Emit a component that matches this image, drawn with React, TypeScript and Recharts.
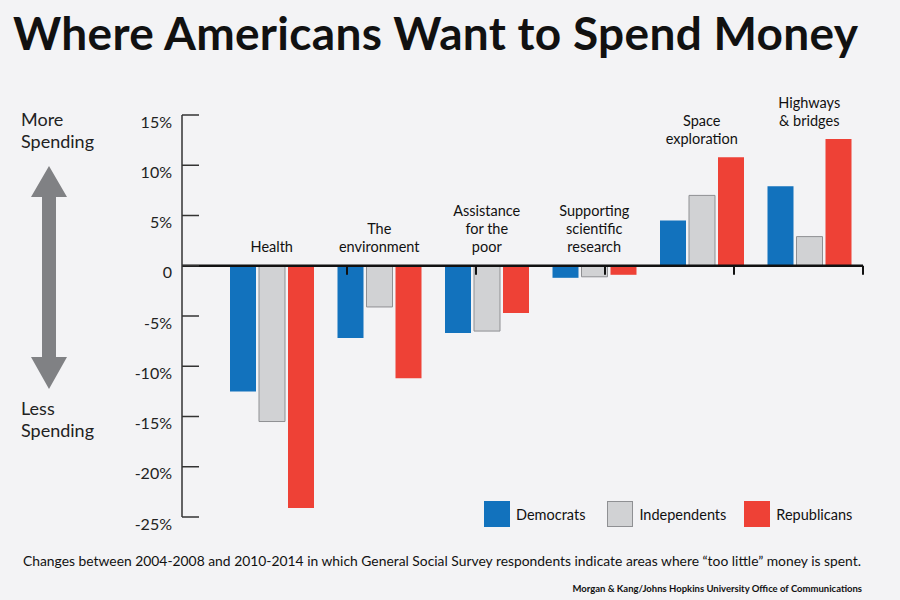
import React from "react";
import { ComposedChart, Bar, Line, XAxis, YAxis, ReferenceLine, Legend } from "recharts";

const categories = ["Health", "The\nenvironment", "Assistance\nfor the\npoor", "Supporting\nscientific\nresearch", "Space\nexploration", "Highways\n& bridges"];
const democrats = [-12.5, -7.2, -6.7, -1.2, 4.5, 7.9];
const independents = [-15.5, -4.1, -6.5, -1.1, 7.0, 2.9];
const republicans = [-24.1, -11.2, -4.7, -0.9, 10.8, 12.6];
const yTicks = [15, 10, 5, 0, -5, -10, -15, -20, -25];
const boundaries = [1, 2, 3, 4, 5, 6];

const BLUE = "#1272bd";
const GREY = "#d1d2d4";
const GREY_STROKE = "#8f9093";
const RED = "#ee4136";
const BG = "#f3f3f5";
const FONT = "Lato, 'Noto Sans', sans-serif";

const data = categories.map((c, i) => ({
  category: c,
  dem: democrats[i],
  ind: independents[i],
  rep: republicans[i],
  labelTop: Math.max(0, democrats[i], independents[i], republicans[i]),
}));

const YTick = (props: any) => {
  const { x, y, payload } = props;
  const v = payload.value;
  return (
    <g>
      <line x1={x + 10} x2={x + 27} y1={y} y2={y} stroke="#333" strokeWidth={1.5} />
      <text x={x} y={y + 6} textAnchor="end" dominantBaseline="central" fontFamily={FONT} fontSize={16} fill="#222">
        {v === 0 ? "0" : `${v}%`}
      </text>
    </g>
  );
};

const CatLabel = (props: any) => {
  const { cx, cy, payload, index } = props;
  if (cx == null || cy == null) return null;
  const lines = String(payload.category).split("\n");
  const n = lines.length;
  return (
    <g key={`lbl-${index}`}>
      {lines.map((ln, i) => (
        <text key={i} x={cx} y={cy - 19 - (n - 1 - i) * 18} textAnchor="middle" dominantBaseline="central" fontFamily={FONT} fontSize={14.5} fill="#111">
          {ln}
        </text>
      ))}
    </g>
  );
};

const LegendContent = (props: any) => {
  const { payload } = props;
  const items = (payload || []).filter((p: any) => p.type !== "none");
  return (
    <div style={{ display: "flex", alignItems: "center", fontFamily: FONT, fontSize: 14.5, color: "#111" }}>
      {items.map((p: any, i: number) => (
        <div key={i} style={{ display: "flex", alignItems: "center", marginRight: i === 0 ? 22 : 18 }}>
          <svg width={26} height={26} style={{ display: "block" }}>
            <rect x={0.5} y={0.5} width={25} height={25} fill={p.color} stroke={p.payload && p.payload.stroke ? p.payload.stroke : p.color} strokeWidth={1} />
          </svg>
          <span style={{ marginLeft: 6, whiteSpace: "nowrap" }}>{p.value}</span>
        </div>
      ))}
    </div>
  );
};

export default function App() {
  return (
    <div style={{ position: "absolute", left: 0, top: 0, width: 900, height: 600, background: BG, overflow: "hidden" }}>
      <svg width={900} height={600} style={{ position: "absolute", left: 0, top: 0 }}>
        <text x={13} y={50} fontFamily={FONT} fontWeight={700} fontSize={46} fill="#111" textLength={845} lengthAdjust="spacing">
          Where Americans Want to Spend Money
        </text>
        <text x={21} y={126} fontFamily={FONT} fontSize={18} fill="#222">More</text>
        <text x={21} y={148} fontFamily={FONT} fontSize={18} fill="#222">Spending</text>
        <text x={21} y={415} fontFamily={FONT} fontSize={18} fill="#222">Less</text>
        <text x={21} y={437} fontFamily={FONT} fontSize={18} fill="#222">Spending</text>
        <polygon points="49,166 67,197 56,197 56,357 67,357 49,389 31,357 42,357 42,197 31,197" fill="#808184" />
        <text x={23} y={566} fontFamily={FONT} fontSize={13.8} fill="#111" textLength={838} lengthAdjust="spacingAndGlyphs">
          Changes between 2004-2008 and 2010-2014 in which General Social Survey respondents indicate areas where “too little” money is spent.
        </text>
        <text x={862} y={592} textAnchor="end" fontFamily={FONT} fontWeight={700} fontSize={9.5} fill="#111">
          Morgan &amp; Kang/Johns Hopkins University Office of Communications
        </text>
      </svg>
      <div style={{ position: "absolute", left: 0, top: 0 }}>
        <ComposedChart width={900} height={600} data={data} margin={{ top: 115, right: 37, bottom: 83, left: 0 }} barSize={26} barGap={3}>
          <XAxis dataKey="category" hide padding={{ left: 36, right: 0 }} />
          <XAxis xAxisId="b" type="number" domain={[0, 6]} hide padding={{ left: 36, right: 0 }} allowDataOverflow />
          <YAxis
            domain={[-25, 15]}
            ticks={yTicks}
            interval={0}
            width={182}
            tickSize={0}
            tickMargin={10}
            tickLine={false}
            axisLine={{ stroke: "#333", strokeWidth: 1.5 }}
            tick={YTick}
          />
          <Bar dataKey="dem" name="Democrats" fill={BLUE} isAnimationActive={false} />
          <Bar dataKey="ind" name="Independents" fill={GREY} stroke={GREY_STROKE} strokeWidth={1} isAnimationActive={false} />
          <Bar dataKey="rep" name="Republicans" fill={RED} isAnimationActive={false} />
          <ReferenceLine y={0} stroke="#111" strokeWidth={2.5} />
          {boundaries.map((b) => (
            <ReferenceLine
              key={b}
              xAxisId="b"
              ifOverflow="visible"
              segment={[{ x: b, y: 0 }, { x: b, y: -0.9 }]}
              stroke="#111"
              strokeWidth={2}
            />
          ))}
          <Line dataKey="labelTop" stroke="none" legendType="none" dot={CatLabel} activeDot={false} isAnimationActive={false} />
          <Legend
            layout="horizontal"
            verticalAlign="middle"
            align="center"
            content={LegendContent}
            wrapperStyle={{ left: 484, top: 501, width: "auto", height: 26 }}
          />
        </ComposedChart>
      </div>
    </div>
  );
}
